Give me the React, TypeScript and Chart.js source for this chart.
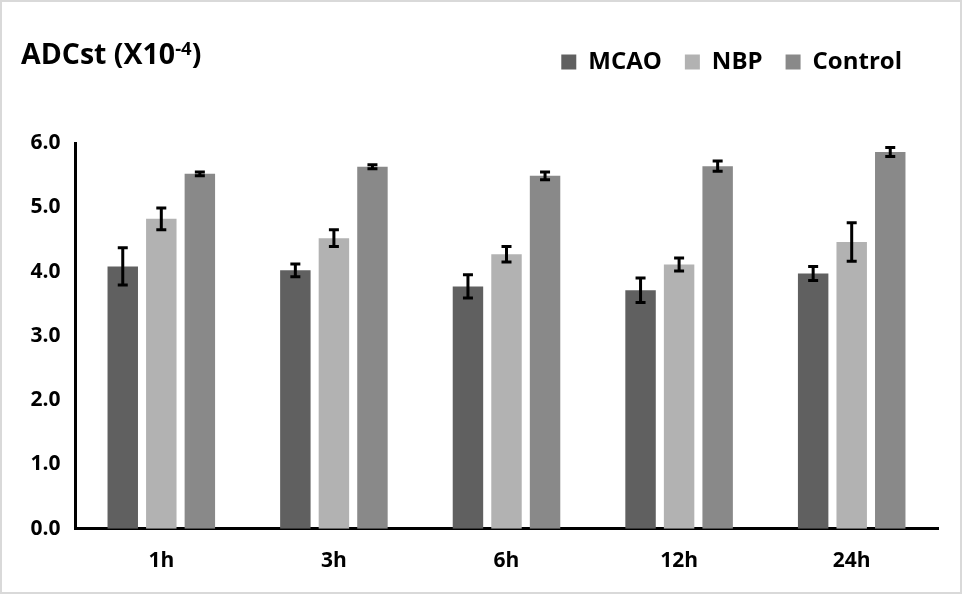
import React, { useEffect, useRef } from "react";
import { Chart, registerables } from "chart.js";

Chart.register(...registerables);

const categories = ["1h", "3h", "6h", "12h", "24h"];
const seriesNames = ["MCAO", "NBP", "Control"];
const mcao = [4.08, 4.02, 3.77, 3.71, 3.97];
const mcaoErr = [0.29, 0.1, 0.18, 0.19, 0.11];
const nbp = [4.82, 4.52, 4.27, 4.11, 4.46];
const nbpErr = [0.17, 0.13, 0.12, 0.1, 0.3];
const control = [5.52, 5.63, 5.49, 5.64, 5.86];
const controlErr = [0.03, 0.03, 0.06, 0.08, 0.07];
const yTicksMin = 0;
const yTicksMax = 6;
const yTickStep = 1;

const colors = ["#606060", "#b2b2b2", "#898989"];
const FONT = "'Open Sans', 'DejaVu Sans', sans-serif";

const errorSets = [mcaoErr, nbpErr, controlErr];

const errorBarPlugin = {
  id: "errorBars",
  afterDatasetsDraw(chart: any) {
    const ctx = chart.ctx;
    const yScale = chart.scales.y;
    chart.data.datasets.forEach((ds: any, i: number) => {
      const meta = chart.getDatasetMeta(i);
      const errs = errorSets[i];
      meta.data.forEach((bar: any, j: number) => {
        const v = ds.data[j] as number;
        const e = errs[j];
        const top = yScale.getPixelForValue(v + e);
        const bot = yScale.getPixelForValue(v - e);
        const half = 5;
        ctx.save();
        ctx.strokeStyle = "#000";
        ctx.lineWidth = 3;
        ctx.beginPath();
        ctx.moveTo(bar.x, top);
        ctx.lineTo(bar.x, bot);
        ctx.moveTo(bar.x - half, top);
        ctx.lineTo(bar.x + half, top);
        ctx.moveTo(bar.x - half, bot);
        ctx.lineTo(bar.x + half, bot);
        ctx.stroke();
        ctx.restore();
      });
    });
  },
};

const legendSpacer = {
  id: "legendSpacer",
  beforeInit(chart: any) {
    const legend = chart.legend;
    if (!legend) return;
    const orig = legend.fit;
    legend.fit = function () {
      orig.call(this);
      this.height += 59;
      if (this.lineWidths && this.lineWidths.length) this.lineWidths[0] += 13;
    };
  },
};

export default function App() {
  const canvasRef = useRef<HTMLCanvasElement | null>(null);

  useEffect(() => {
    const prevMargin = document.body.style.margin;
    document.body.style.margin = "0";
    const canvas = canvasRef.current;
    if (!canvas) return;
    const chart = new Chart(canvas, {
      type: "bar",
      data: {
        labels: categories,
        datasets: [
          { label: seriesNames[0], data: mcao, backgroundColor: colors[0], borderWidth: 0 },
          { label: seriesNames[1], data: nbp, backgroundColor: colors[1], borderWidth: 0 },
          { label: seriesNames[2], data: control, backgroundColor: colors[2], borderWidth: 0 },
        ],
      },
      options: {
        responsive: false,
        animation: false,
        datasets: { bar: { categoryPercentage: 0.67, barPercentage: 0.79 } },
        layout: { padding: { left: 16, right: 24, top: 27, bottom: 0 } },
        plugins: {
          tooltip: { enabled: false },
          title: { display: false },
          legend: {
            display: true,
            position: "top",
            align: "end",
            labels: {
              boxWidth: 15,
              boxHeight: 15,
              padding: 23,
              color: "#000",
              font: { family: FONT, size: 24, weight: "bold" },
            },
          },
        },
        scales: {
          x: {
            grid: { display: false, drawTicks: false },
            border: { display: true, color: "#000", width: 3 },
            ticks: {
              color: "#000",
              padding: 20,
              font: { family: FONT, size: 21, weight: "bold" },
            },
          },
          y: {
            min: yTicksMin,
            max: yTicksMax,
            grid: { display: false, drawTicks: false },
            border: { display: true, color: "#000", width: 3 },
            ticks: {
              stepSize: yTickStep,
              color: "#000",
              padding: 14.5,
              font: { family: FONT, size: 21, weight: "bold" },
              callback: (v: any) => Number(v).toFixed(1),
            },
          },
        },
      },
      plugins: [errorBarPlugin, legendSpacer],
    } as any);
    return () => {
      chart.destroy();
      document.body.style.margin = prevMargin;
    };
  }, []);

  return (
    <div style={{ position: "relative", width: 962, height: 594, background: "#fff" }}>
      <canvas ref={canvasRef} width={962} height={594} style={{ display: "block", width: 962, height: 594 }} />
      <div
        style={{
          position: "absolute",
          left: 21,
          top: 39,
          fontFamily: FONT,
          fontWeight: "bold",
          fontSize: 28.5,
          lineHeight: 1,
          color: "#000",
          whiteSpace: "nowrap",
        }}
      >
        ADCst (X10<sup style={{ fontSize: "0.65em", verticalAlign: "0.5em", lineHeight: 0 }}>-4</sup>)
      </div>
      <div
        style={{
          position: "absolute",
          inset: 0,
          border: "2px solid #d9d9d9",
          pointerEvents: "none",
        }}
      />
    </div>
  );
}
